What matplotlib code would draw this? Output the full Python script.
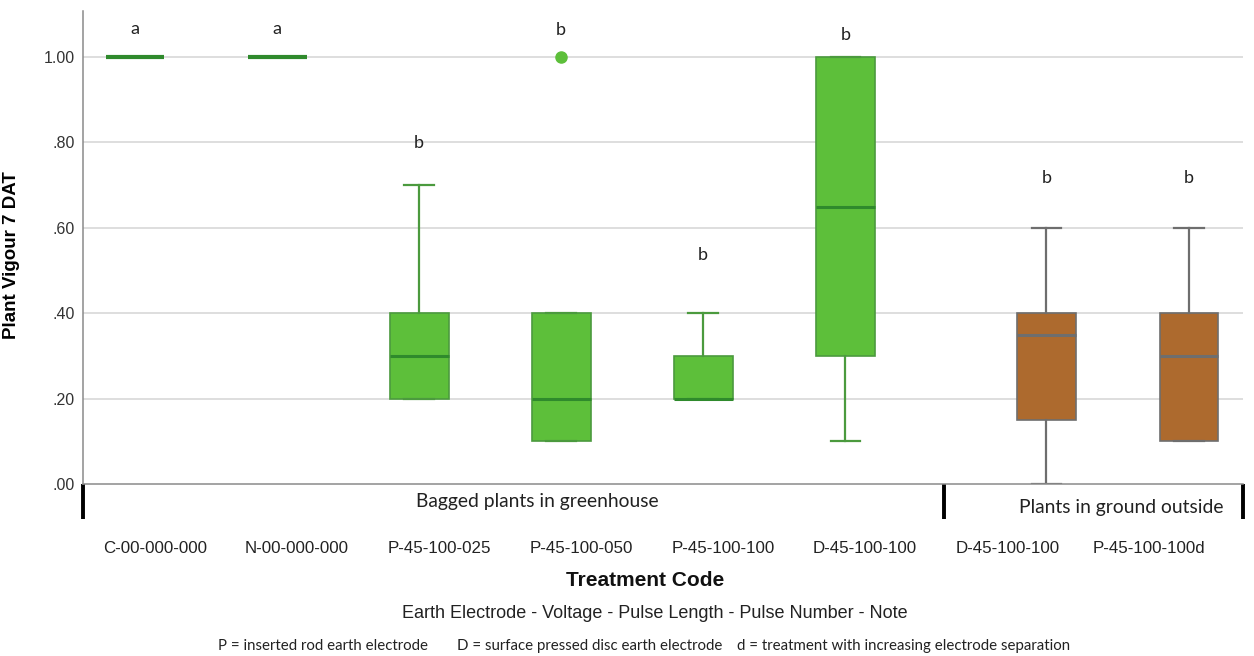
import matplotlib
matplotlib.use("Agg")
import matplotlib.pyplot as plt
from matplotlib import transforms

# Treatment codes (x tick labels)
treatments = ["C-00-000-000", "N-00-000-000", "P-45-100-025", "P-45-100-050",
              "P-45-100-100", "D-45-100-100", "D-45-100-100", "P-45-100-100d"]

# Box-plot summary statistics for Plant Vigour 7 DAT
whislo = [1.00, 1.00, 0.20, 0.10, 0.20, 0.10, 0.00, 0.10]
q1     = [1.00, 1.00, 0.20, 0.10, 0.20, 0.30, 0.15, 0.10]
median = [1.00, 1.00, 0.30, 0.20, 0.20, 0.65, 0.35, 0.30]
q3     = [1.00, 1.00, 0.40, 0.40, 0.30, 1.00, 0.40, 0.40]
whishi = [1.00, 1.00, 0.70, 0.40, 0.40, 1.00, 0.60, 0.60]
outliers = [[], [], [], [1.00], [], [], [], []]

# Significance letters and the height at which they are written
letters = ["a", "a", "b", "b", "b", "b", "b", "b"]
letter_y = [1.066, 1.066, 0.798, 1.063, 0.536, 1.052, 0.717, 0.717]

groups = ["Bagged plants in greenhouse", "Plants in ground outside"]
in_ground = [False, False, False, False, False, False, True, True]

# Layout
box_pos = [0, 1, 2, 3, 4, 5, 6.415, 7.42]
label_pos = [k + 0.14 for k in range(len(treatments))]
BOX_W = 0.415

GREEN = "#5dbf3a"
GREEN_EDGE = "#4b9a3e"
GREEN_MED = "#2f8a2c"
BROWN = "#ad6a2e"
GRAY_EDGE = "#6e6e6e"

fig = plt.figure(figsize=(12.54, 6.56), dpi=100)
ax = fig.add_axes([83 / 1254, 1 - 484 / 656, (1243 - 83) / 1254, (484 - 11) / 656])

for i in range(len(treatments)):
    st = dict(whislo=whislo[i], q1=q1[i], med=median[i], q3=q3[i],
              whishi=whishi[i], fliers=outliers[i])
    if in_ground[i]:
        face, edge, med = BROWN, GRAY_EDGE, GRAY_EDGE
    else:
        face, edge, med = GREEN, GREEN_EDGE, GREEN_MED
    lw_med = 3 if q1[i] == q3[i] else 2.2
    ax.bxp([st], positions=[box_pos[i]], widths=BOX_W, patch_artist=True,
           showfliers=True, manage_ticks=False,
           boxprops=dict(facecolor=face, edgecolor=edge, linewidth=1.2),
           medianprops=dict(color=med, linewidth=lw_med, solid_capstyle="butt"),
           whiskerprops=dict(color=edge, linewidth=1.6),
           capprops=dict(color=edge, linewidth=1.6),
           capwidths=BOX_W * 0.5,
           flierprops=dict(marker="o", markerfacecolor=GREEN, markeredgecolor=GREEN,
                           markersize=8))
    ax.text(box_pos[i], letter_y[i], letters[i], ha="center", va="center",
            fontsize=13, family="Lato", color="#222222")

ax.set_xlim(-0.366, 7.80)
ax.set_ylim(0, 1.108)
yt = [0.0, 0.2, 0.4, 0.6, 0.8, 1.0]
ax.set_yticks(yt)
ax.set_yticklabels([("%.2f" % v).lstrip("0") if v < 1 else "%.2f" % v for v in yt],
                   family="Liberation Sans", fontsize=11.5, color="#333333")
ax.tick_params(axis="y", length=0, pad=6)
for v in yt[1:]:
    ax.axhline(v, color="#d4d4d4", linewidth=1.1, zorder=0)

ax.set_xticks(label_pos)
ax.set_xticklabels(treatments, family="Liberation Sans", fontsize=12.2, color="#222222")
ax.tick_params(axis="x", length=0, pad=41)

for s in ["top", "right"]:
    ax.spines[s].set_visible(False)
ax.spines["left"].set_color("#8a8a8a")
ax.spines["bottom"].set_color("#8a8a8a")
ax.spines["left"].set_linewidth(1.1)
ax.spines["bottom"].set_linewidth(1.1)

ax.set_ylabel("Plant Vigour 7 DAT", family="Liberation Sans", fontsize=13.5,
              fontweight="bold")
ax.yaxis.set_label_coords(-0.054, 0.485)

# Group separators below the axis
trans = transforms.blended_transform_factory(ax.transData, ax.transAxes)
for x in [-0.366, 5.695, 7.80]:
    ax.plot([x, x], [0.0, -0.075], transform=trans, color="black", linewidth=2.8,
            clip_on=False, solid_capstyle="butt")
fig.text(537 / 1254, 1 - 501 / 656, groups[0], ha="center", va="center",
         fontsize=13.9, family="Lato", color="#222222")
fig.text(1121 / 1254, 1 - 507 / 656, groups[1], ha="center", va="center",
         fontsize=13.9, family="Lato", color="#222222")

fig.text(645 / 1254, 1 - 580 / 656, "Treatment Code", ha="center", va="center",
         family="Liberation Sans", fontsize=15, fontweight="bold", color="#111111")
fig.text(655 / 1254, 1 - 613 / 656,
         "Earth Electrode - Voltage - Pulse Length - Pulse Number - Note",
         ha="center", va="center", family="Liberation Sans", fontsize=13,
         color="#222222")

foot_y = 1 - 646 / 656
fig.text(218 / 1254, foot_y, "P = inserted rod earth electrode", ha="left", va="center",
         family="Lato", fontsize=10.8, color="#222222")
fig.text(457 / 1254, foot_y, "D = surface pressed disc earth electrode", ha="left",
         va="center", family="Lato", fontsize=10.8, color="#222222")
fig.text(737 / 1254, foot_y, "d = treatment with increasing electrode separation",
         ha="left", va="center", family="Lato", fontsize=10.8, color="#222222")

fig.savefig("out.png", dpi=100, facecolor="white")
